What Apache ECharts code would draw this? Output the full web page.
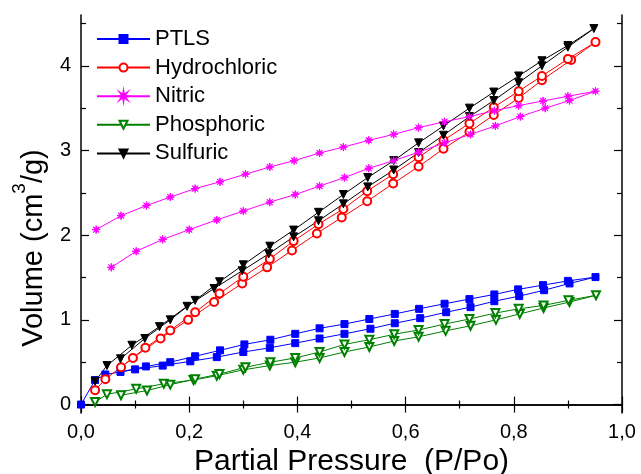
<!DOCTYPE html>
<html>
<head>
<meta charset="utf-8">
<title>Nitrogen isotherms</title>
<script src="https://cdn.jsdelivr.net/npm/echarts@6/dist/echarts.min.js"></script>
<style>
  html, body { margin: 0; padding: 0; background: #fff; }
  #chart { width: 641px; height: 474px; }
</style>
</head>
<body>
<div id="chart"></div>
<script>
// Adsorption (rising) and desorption (returning) branches, [P/Po, volume cm3/g]
const ptlsAdsorption = [[0,0],[0.026,0.29],[0.045,0.355],[0.10,0.415],[0.151,0.46],[0.202,0.51],[0.251,0.56],[0.30,0.62],[0.349,0.67],[0.396,0.725],[0.441,0.78],[0.487,0.835],[0.535,0.895],[0.58,0.96],[0.627,1.02],[0.675,1.09],[0.72,1.15],[0.764,1.22],[0.81,1.28],[0.856,1.35],[0.903,1.43],[0.951,1.505]];
const ptlsDesorption = [[0.90,1.46],[0.854,1.41],[0.808,1.36],[0.764,1.30],[0.718,1.245],[0.672,1.19],[0.625,1.13],[0.58,1.07],[0.533,1.01],[0.487,0.95],[0.441,0.90],[0.396,0.835],[0.35,0.765],[0.302,0.71],[0.257,0.64],[0.211,0.57],[0.165,0.50],[0.12,0.45],[0.073,0.385]];

const hydrochloricAdsorption = [[0.026,0.17],[0.045,0.30],[0.096,0.55],[0.147,0.78],[0.198,1.00],[0.246,1.21],[0.298,1.43],[0.344,1.62],[0.39,1.82],[0.436,2.02],[0.482,2.21],[0.529,2.40],[0.577,2.61],[0.624,2.81],[0.67,3.02],[0.718,3.22],[0.763,3.42],[0.809,3.62],[0.852,3.83],[0.906,4.07],[0.951,4.28]];
const hydrochloricDesorption = [[0.90,4.08],[0.852,3.88],[0.809,3.70],[0.763,3.51],[0.718,3.32],[0.67,3.12],[0.624,2.92],[0.577,2.72],[0.529,2.52],[0.485,2.31],[0.439,2.13],[0.393,1.93],[0.349,1.72],[0.30,1.51],[0.256,1.31],[0.211,1.09],[0.165,0.875],[0.119,0.67],[0.074,0.44]];

const nitricAdsorption = [[0.056,1.62],[0.102,1.81],[0.151,1.95],[0.20,2.065],[0.251,2.18],[0.30,2.285],[0.349,2.39],[0.396,2.48],[0.441,2.58],[0.487,2.68],[0.532,2.79],[0.578,2.88],[0.624,2.98],[0.672,3.09],[0.72,3.19],[0.766,3.29],[0.812,3.40],[0.858,3.50],[0.903,3.59],[0.951,3.70]];
const nitricDesorption = [[0.90,3.64],[0.854,3.585],[0.809,3.53],[0.764,3.47],[0.718,3.40],[0.672,3.34],[0.624,3.27],[0.578,3.19],[0.532,3.12],[0.485,3.04],[0.441,2.97],[0.394,2.88],[0.349,2.805],[0.304,2.72],[0.257,2.63],[0.211,2.55],[0.165,2.45],[0.121,2.35],[0.074,2.23],[0.028,2.065]];

const phosphoricAdsorption = [[0.026,0.03],[0.048,0.12],[0.102,0.185],[0.153,0.245],[0.208,0.29],[0.251,0.34],[0.30,0.41],[0.349,0.46],[0.396,0.50],[0.441,0.55],[0.487,0.62],[0.533,0.68],[0.579,0.75],[0.624,0.80],[0.674,0.87],[0.72,0.93],[0.767,1.00],[0.811,1.07],[0.855,1.14],[0.903,1.21],[0.952,1.29]];
const phosphoricDesorption = [[0.901,1.23],[0.855,1.17],[0.809,1.13],[0.766,1.08],[0.718,1.01],[0.672,0.95],[0.624,0.88],[0.579,0.83],[0.533,0.765],[0.487,0.71],[0.441,0.62],[0.396,0.55],[0.35,0.50],[0.304,0.44],[0.256,0.36],[0.211,0.30],[0.165,0.235],[0.122,0.165],[0.074,0.11]];

const sulfuricAdsorption = [[0.026,0.275],[0.048,0.46],[0.094,0.70],[0.145,0.92],[0.196,1.16],[0.246,1.37],[0.298,1.58],[0.347,1.78],[0.393,1.98],[0.439,2.17],[0.485,2.37],[0.53,2.57],[0.578,2.77],[0.624,2.975],[0.67,3.18],[0.718,3.40],[0.763,3.59],[0.809,3.80],[0.852,4.00],[0.90,4.22],[0.948,4.44]];
const sulfuricDesorption = [[0.90,4.24],[0.852,4.06],[0.809,3.88],[0.763,3.69],[0.718,3.50],[0.67,3.29],[0.624,3.09],[0.578,2.88],[0.53,2.68],[0.485,2.48],[0.439,2.27],[0.393,2.06],[0.349,1.87],[0.30,1.65],[0.256,1.45],[0.211,1.23],[0.165,1.00],[0.118,0.78],[0.073,0.54]];

const seriesNames = ['PTLS', 'Hydrochloric', 'Nitric', 'Phosphoric', 'Sulfuric'];
const yMajorTicks = [0, 1, 2, 3, 4];
const yMinorTicks = [0.5, 1.5, 2.5, 3.5, 4.5];

const FONT = '"Liberation Sans", Arial, sans-serif';
const asterisk = 'path://M0,-1L0.115,-0.277L0.707,-0.707L0.277,-0.115L1,0L0.277,0.115L0.707,0.707L0.115,0.277L0,1L-0.115,0.277L-0.707,0.707L-0.277,0.115L-1,0L-0.277,-0.115L-0.707,-0.707L-0.115,-0.277Z';

function loop(ads, des) { return ads.concat(des); }

function lineSeries(name, data, color, symbol, size, extra) {
  return Object.assign({
    name: name,
    type: 'line',
    data: data,
    symbol: symbol,
    symbolSize: size,
    showAllSymbol: true,
    lineStyle: { color: color, width: 1 },
    itemStyle: { color: color, borderColor: color, borderWidth: 1 },
    emphasis: { disabled: true },
    animation: false
  }, extra || {});
}

const axisLineStyle = { color: '#000', width: 1.5 };
const tickLineStyle = { color: '#000', width: 1.2 };

const chart = echarts.init(document.getElementById('chart'), null, { renderer: 'canvas' });
chart.setOption({
  backgroundColor: '#fff',
  animation: false,
  grid: { left: 81, right: 19, top: 15, bottom: 61, outerBoundsMode: 'none' },
  legend: {
    orient: 'vertical',
    left: 91,
    top: 23,
    itemWidth: 53,
    itemHeight: 10,
    itemGap: 6.6,
    data: seriesNames,
    textStyle: { fontSize: 22, color: '#000', fontFamily: FONT },
    selectedMode: false
  },
  xAxis: [
    {
      type: 'value', position: 'bottom', min: 0, max: 1, interval: 0.2,
      axisLine: { show: true, lineStyle: axisLineStyle },
      axisTick: { show: true, inside: true, length: 8, lineStyle: tickLineStyle },
      minorTick: { show: true, splitNumber: 2, length: 4, lineStyle: tickLineStyle },
      axisLabel: {
        fontSize: 20, color: '#000', fontFamily: FONT, margin: 9,
        formatter: function (v) { return v.toFixed(1).replace('.', ','); }
      },
      splitLine: { show: false },
      name: 'Partial Pressure  (P/Po)',
      nameLocation: 'middle',
      nameGap: 27,
      nameTextStyle: { fontSize: 30, color: '#000', fontFamily: FONT }
    },
    {
      type: 'value', position: 'top', min: 0, max: 1, interval: 0.2,
      axisLine: { show: true, lineStyle: axisLineStyle },
      axisTick: { show: true, inside: true, length: 8, lineStyle: tickLineStyle },
      minorTick: { show: true, splitNumber: 2, length: 4, lineStyle: tickLineStyle },
      axisLabel: { show: false },
      splitLine: { show: false }
    }
  ],
  yAxis: [
    {
      type: 'value', position: 'left', min: -0.1, max: 4.6,
      axisLine: { show: true, lineStyle: axisLineStyle },
      axisTick: { show: true, inside: true, length: 8, customValues: yMajorTicks, lineStyle: tickLineStyle },
      axisLabel: { customValues: yMajorTicks, fontSize: 20, color: '#000', fontFamily: FONT, margin: 10 },
      splitLine: { show: false },
      name: '{a|Volume (cm}{s|3}{a|/g)}',
      nameLocation: 'middle',
      nameGap: 22,
      nameTextStyle: {
        padding: [0, 68, 0, 0],
        rich: {
          a: { fontSize: 29, lineHeight: 48, color: '#000', fontFamily: FONT },
          s: { fontSize: 19, lineHeight: 19, verticalAlign: 'top', color: '#000', fontFamily: FONT }
        }
      }
    },
    {
      type: 'value', position: 'left', min: -0.1, max: 4.6,
      axisLine: { show: false },
      axisTick: { show: true, inside: true, length: 5, customValues: yMinorTicks, lineStyle: tickLineStyle },
      axisLabel: { show: false },
      splitLine: { show: false }
    },
    {
      type: 'value', position: 'right', min: -0.1, max: 4.6,
      axisLine: { show: true, lineStyle: axisLineStyle },
      axisTick: { show: true, inside: true, length: 8, customValues: yMajorTicks, lineStyle: tickLineStyle },
      axisLabel: { show: false },
      splitLine: { show: false }
    },
    {
      type: 'value', position: 'right', min: -0.1, max: 4.6,
      axisLine: { show: false },
      axisTick: { show: true, inside: true, length: 5, customValues: yMinorTicks, lineStyle: tickLineStyle },
      axisLabel: { show: false },
      splitLine: { show: false }
    }
  ],
  series: [
    lineSeries('Phosphoric', loop(phosphoricAdsorption, phosphoricDesorption), '#008000', 'emptyTriangle', 8, { symbolRotate: 180 }),
    lineSeries('PTLS', loop(ptlsAdsorption, ptlsDesorption), '#0000ff', 'rect', 7),
    lineSeries('Hydrochloric', loop(hydrochloricAdsorption, hydrochloricDesorption), '#ff0000', 'emptyCircle', 8),
    lineSeries('Sulfuric', loop(sulfuricAdsorption, sulfuricDesorption), '#000000', 'triangle', 8, { symbolRotate: 180 }),
    lineSeries('Nitric', loop(nitricAdsorption, nitricDesorption), '#ff00ff', asterisk, 8)
  ]
});
</script>
</body>
</html>
